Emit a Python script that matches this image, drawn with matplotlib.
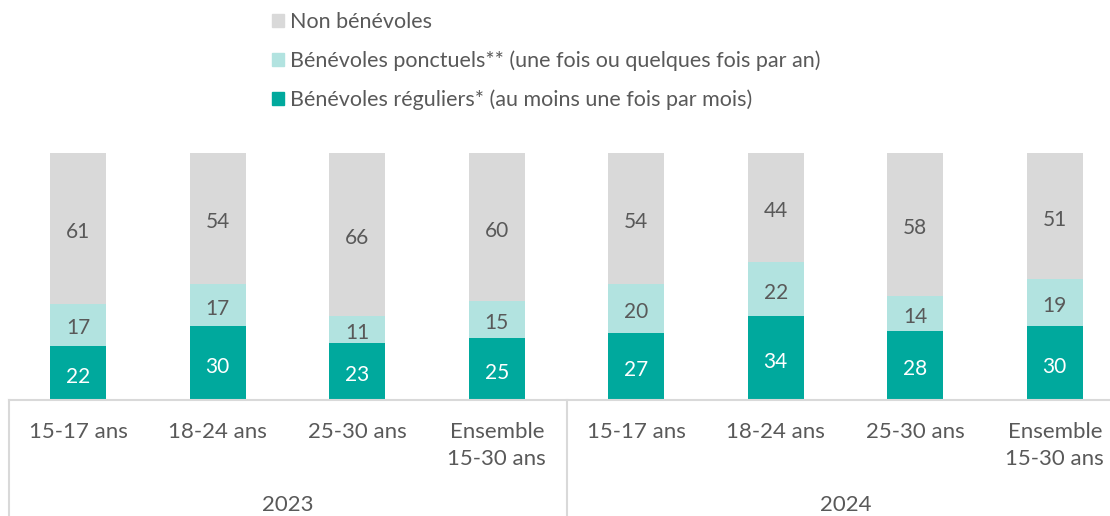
import numpy as np
import matplotlib.pyplot as plt
from matplotlib.patches import Patch
from matplotlib.transforms import blended_transform_factory

plt.rcParams['font.family'] = ['Lato', 'DejaVu Sans']

# data
years = ['2023', '2024']
groups = ['15-17 ans', '18-24 ans', '25-30 ans', 'Ensemble\n15-30 ans']
reguliers = [22, 30, 23, 25, 27, 34, 28, 30]
ponctuels = [17, 17, 11, 15, 20, 22, 14, 19]
non_benevoles = [61, 54, 66, 60, 54, 44, 58, 51]
legend_labels = ['Non bénévoles',
                 'Bénévoles ponctuels** (une fois ou quelques fois par an)',
                 'Bénévoles réguliers* (au moins une fois par mois)']

c_reg = '#00A99D'
c_ponc = '#B2E3E0'
c_non = '#D9D9D9'
c_txt = '#595959'
c_line = '#D9D9D9'

fig = plt.figure(figsize=(11.1, 5.16), dpi=100)
ax = fig.add_axes([8.5 / 1110, 116 / 516, 8 * 139.5 / 1110, 247 / 516])

x = np.arange(len(reguliers))
reg = np.array(reguliers)
ponc = np.array(ponctuels)
non = np.array(non_benevoles)
w = 0.4

ax.bar(x, reg, w, color=c_reg)
ax.bar(x, ponc, w, bottom=reg, color=c_ponc)
ax.bar(x, non, w, bottom=reg + ponc, color=c_non)

for i in x:
    ax.text(i, reg[i] / 2 - 1.5, str(reg[i]), ha='center', va='center', color='white', fontsize=15)
    ax.text(i, reg[i] + ponc[i] / 2 - 1.5, str(ponc[i]), ha='center', va='center', color=c_txt, fontsize=15)
    top = min(reg[i] + ponc[i] + non[i], 100)
    ax.text(i, (reg[i] + ponc[i] + top) / 2 - 1.5, str(non[i]), ha='center', va='center', color=c_txt, fontsize=15)

ax.set_xlim(-0.5, 7.5)
ax.set_ylim(0, 100)
ax.set_xticks([])
ax.set_yticks([])
for s in ['top', 'right', 'left']:
    ax.spines[s].set_visible(False)
ax.spines['bottom'].set_color(c_line)
ax.spines['bottom'].set_linewidth(1.5)

tr = blended_transform_factory(ax.transData, ax.transAxes)
for k, yr in enumerate(years):
    for j, g in enumerate(groups):
        ax.text(k * 4 + j, -0.088, g, transform=tr, ha='center', va='top',
                color=c_txt, fontsize=16, linespacing=1.45)
    ax.text(k * 4 + 1.5, -0.425, yr, transform=tr, ha='center', va='center',
            color=c_txt, fontsize=16)
for sx in [-0.5, 3.5]:
    ax.plot([sx, sx], [0, -0.5], transform=tr, color=c_line, lw=1.5, clip_on=False)

handles = [Patch(color=c_non), Patch(color=c_ponc), Patch(color=c_reg)]
fig.legend(handles, legend_labels, loc='upper left', bbox_to_anchor=(272 / 1110, 1 - 12 / 516),
           frameon=False, fontsize=15.5, handlelength=0.56, handleheight=0.56,
           handletextpad=0.28, labelspacing=0.86, borderpad=0, borderaxespad=0,
           labelcolor=c_txt)

fig.savefig('out.png', dpi=100)
